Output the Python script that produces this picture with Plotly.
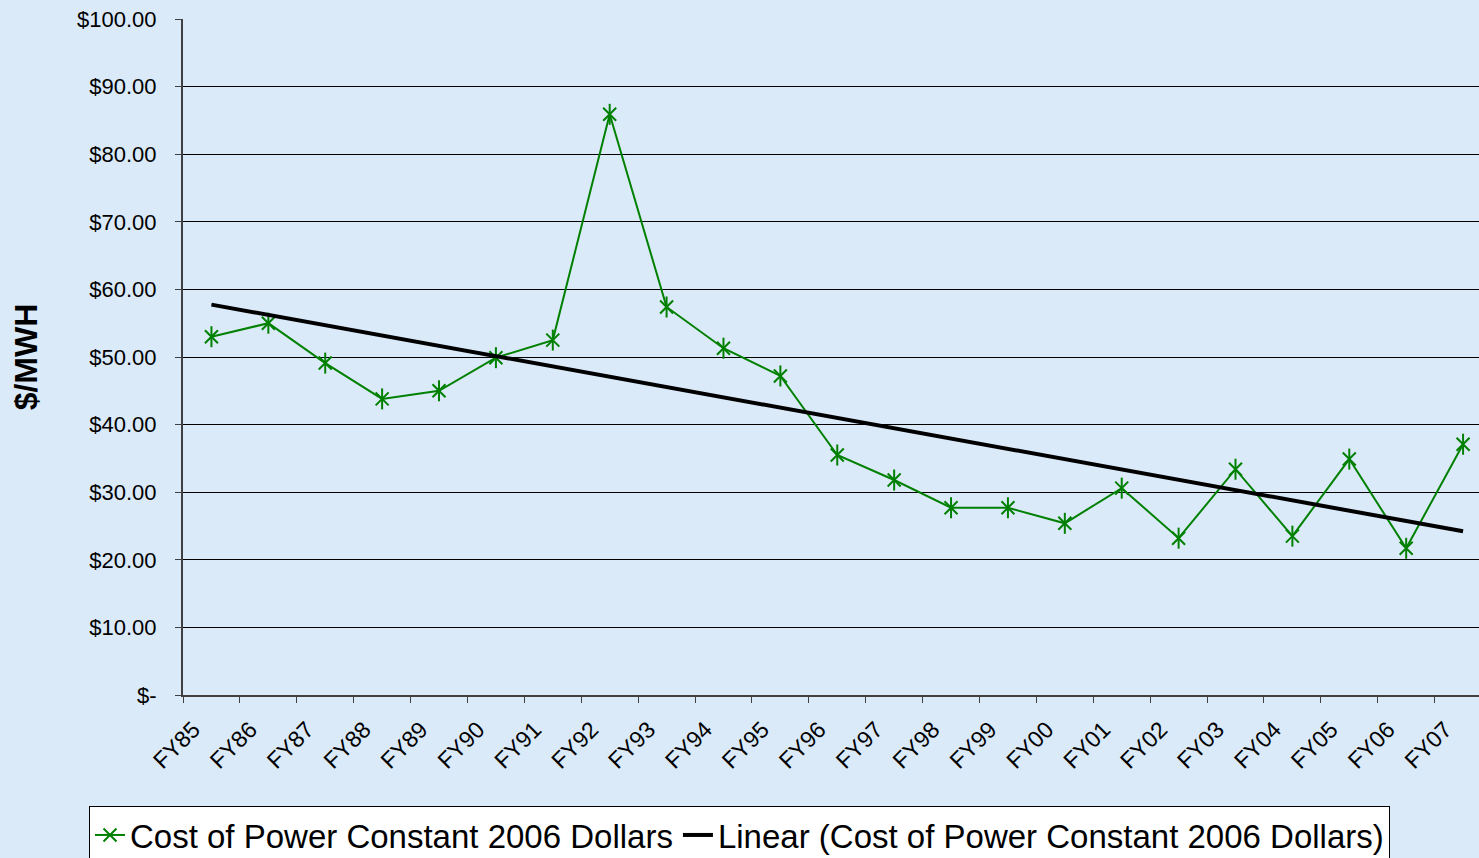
import numpy as np
import plotly.graph_objects as go

categories = ["FY85", "FY86", "FY87", "FY88", "FY89", "FY90", "FY91", "FY92", "FY93",
              "FY94", "FY95", "FY96", "FY97", "FY98", "FY99", "FY00", "FY01", "FY02",
              "FY03", "FY04", "FY05", "FY06", "FY07"]
cost = [53.0, 55.0, 49.1, 43.8, 45.0, 49.9, 52.5, 85.9, 57.4,
        51.3, 47.2, 35.5, 31.8, 27.7, 27.7, 25.4, 30.6, 23.2,
        33.4, 23.5, 34.9, 21.7, 37.1]
y_tickvals = [0, 10, 20, 30, 40, 50, 60, 70, 80, 90, 100]
y_ticktext = ["$-", "$10.00", "$20.00", "$30.00", "$40.00", "$50.00",
              "$60.00", "$70.00", "$80.00", "$90.00", "$100.00"]

idx = np.arange(len(cost))
slope, intercept = np.polyfit(idx, cost, 1)
trend = (slope * idx + intercept).tolist()

GREEN = "#008000"
BG = "#DAEAF8"
FONT = "Liberation Sans, Arial, sans-serif"

fig = go.Figure()
fig.add_trace(go.Scatter(
    x=categories, y=cost, mode="lines+markers",
    name="Cost of Power Constant 2006 Dollars",
    line=dict(color=GREEN, width=2),
    marker=dict(symbol="x-thin-open", size=13, color=GREEN,
                line=dict(color=GREEN, width=2)),
))
fig.add_trace(go.Scatter(
    x=categories, y=cost, mode="markers", showlegend=False, hoverinfo="skip",
    marker=dict(symbol="line-ns-open", size=15, color=GREEN,
                line=dict(color=GREEN, width=2)),
))
fig.add_trace(go.Scatter(
    x=categories, y=trend, mode="lines",
    name="Linear (Cost of Power Constant 2006 Dollars)",
    line=dict(color="black", width=4),
))

fig.update_layout(
    width=1479, height=858,
    paper_bgcolor=BG, plot_bgcolor=BG,
    margin=dict(l=183, r=0, t=19, b=163),
    font=dict(family=FONT, color="black"),
    showlegend=True,
    legend=dict(
        orientation="h", xref="container", yref="container",
        x=0.5, xanchor="center", y=1 - 806 / 858, yanchor="top",
        bgcolor="white", bordercolor="black", borderwidth=1,
        font=dict(size=33, family=FONT, color="black"),
        tracegroupgap=0,
    ),
    xaxis=dict(
        type="category", range=[-0.5, 22.28],
        showgrid=False, showline=True, linecolor="#404040", linewidth=2,
        ticks="outside", tickson="boundaries", ticklen=6, tickcolor="#404040",
        tickangle=-45, tickfont=dict(size=23, family=FONT, color="black"),
        ticklabelstandoff=10, ticklabelshift=-18,
        zeroline=False,
    ),
    yaxis=dict(
        range=[0, 100], tickvals=y_tickvals, ticktext=y_ticktext,
        showgrid=True, gridcolor="black", gridwidth=1,
        showline=True, linecolor="#404040", linewidth=2,
        ticks="outside", ticklen=6, tickcolor="#404040",
        tickfont=dict(size=22, family=FONT, color="black"),
        ticklabelstandoff=14,
        zeroline=False,
        title=dict(text="<b>$/MWH</b>", font=dict(size=32, family=FONT, color="black"),
                   standoff=30),
    ),
)

fig.write_html("out.html", config={"displayModeBar": False},
               post_script="document.body.style.margin='0';")
